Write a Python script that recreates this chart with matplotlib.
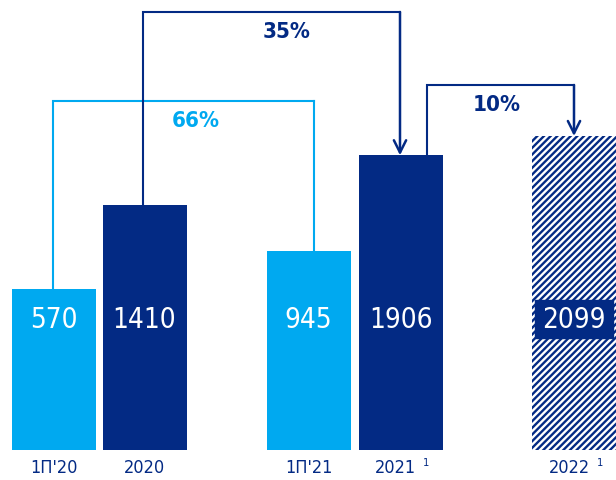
import matplotlib.pyplot as plt
from matplotlib.patches import Rectangle

plt.rcParams['font.family'] = ['DejaVu Sans']
plt.rcParams['font.stretch'] = 'condensed'
plt.rcParams['hatch.linewidth'] = 1.7

# данные
categories = ["1П'20", "2020", "1П'21", "2021", "2022"]
values = [570, 1410, 945, 1906, 2099]
footnotes = ["", "", "", "1", "1"]
growth_labels = ["66%", "35%", "10%"]

LIGHT = '#00A9F0'
DARK = '#032A84'
bar_colors = [LIGHT, DARK, LIGHT, DARK, 'white']

# раскладка (пиксели по x, сдвинутая база по y)
xpos = [53.5, 144.5, 308.5, 400.5, 574]
width = 84
base = -1047        # ось не с нуля
px = 0.0998         # пикселей на единицу

fig = plt.figure(figsize=(6.16, 4.8), dpi=100)
ax = fig.add_axes([0, 0, 1, 1])
ax.set_xlim(0, 616)
ax.set_ylim(base - 30 / px, base + 450 / px)
ax.axis('off')


def y_of(py):
    return base + (450 - py) / px


for i, (x, v, c) in enumerate(zip(xpos, values, bar_colors)):
    if i == 4:
        ax.bar(x, v - base, bottom=base, width=width, facecolor='white',
               edgecolor=DARK, hatch='/////', linewidth=0)
        # подложка под подпись
        ax.add_patch(Rectangle((x - width / 2 + 3, y_of(338)), width - 6, 38 / px,
                               color=DARK, zorder=3))
        ax.text(x, y_of(320), str(v), color='white', fontsize=20,
                ha='center', va='center', zorder=4)
    else:
        ax.bar(x, v - base, bottom=base, width=width, color=c, linewidth=0)
        ax.text(x, y_of(320), str(v), color='white', fontsize=20,
                ha='center', va='center')

for x, lab, fn in zip(xpos, categories, footnotes):
    dx = -5 if fn else 0
    ax.text(x + dx, y_of(468), lab, color=DARK, fontsize=13,
            ha='center', va='center')
    if fn:
        ax.text(x + 26, y_of(463), fn, color=DARK, fontsize=8,
                ha='center', va='center')


def connector(x0, x1, v0, v1, ytop, color, arrow, label, lx):
    ax.plot([x0, x0, x1], [v0, y_of(ytop), y_of(ytop)], color=color,
            lw=1.5, solid_joinstyle='miter')
    if arrow:
        ax.annotate('', xy=(x1, v1), xytext=(x1, y_of(ytop)),
                    arrowprops=dict(arrowstyle='->', color=color, lw=1.8,
                                    mutation_scale=22, shrinkA=0, shrinkB=0))
    else:
        ax.plot([x1, x1], [y_of(ytop), v1], color=color, lw=1.5)
    ax.text(lx, y_of(ytop + 20), label, color=color, fontsize=16,
            fontweight='bold', ha='center', va='center')


connector(53, 314, values[0], values[2], 101, LIGHT, False, growth_labels[0], 196)
connector(143, 400, values[1], values[3], 12, DARK, True, growth_labels[1], 287)
connector(427, 574, values[3], values[4], 85, DARK, True, growth_labels[2], 497)

fig.savefig('out.png', dpi=100)
